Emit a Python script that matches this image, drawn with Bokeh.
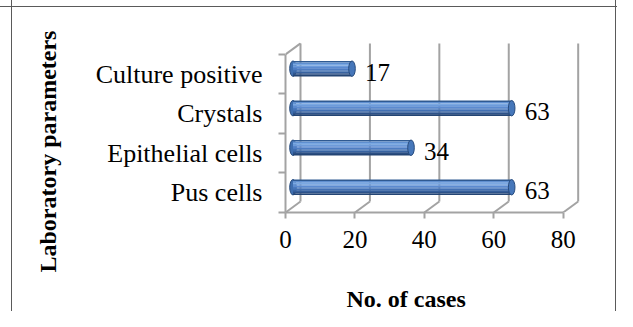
from bokeh.plotting import figure
from bokeh.models import Range1d, FixedTicker, Title, ColumnDataSource
from bokeh.core.properties import value
from bokeh.embed import file_html
from bokeh.resources import INLINE

# ---- data ----
categories = ["Pus cells", "Epithelial cells", "Crystals", "Culture positive"]
cases = [63, 34, 63, 17]
x_ticks = [0, 20, 40, 60, 80]
x_title = "No. of cases"
y_title = "Laboratory parameters"

# ---- 3D depth (in data units of the front axes) ----
DDX = 4.32     # depth shift along value axis
DDY = 0.277    # depth shift along category axis
THICK = 0.39   # bar (cylinder) thickness
FONT = value("Liberation Serif")
GRAY = "#A3A3A3"

n = len(categories)
idx = list(range(n))
centers = [i + 0.5 for i in idx]

p = figure(width=617, height=311, output_backend="svg", toolbar_location=None,
           x_range=Range1d(0, 90.75), y_range=Range1d(0, 4.3),
           min_border_left=285, min_border_right=17, min_border_top=42,
           min_border_bottom=99, border_fill_color=None,
           background_fill_color=None, outline_line_color=None)
p.styles = {
    "background-image": "linear-gradient(#5a5a5a,#5a5a5a), linear-gradient(#5a5a5a,#5a5a5a), linear-gradient(#5a5a5a,#5a5a5a)",
    "background-size": "1px 100%, 100% 1px, 1px 100%",
    "background-position": "11px 0px, 0px 6px, 615px 0px",
    "background-repeat": "no-repeat",
}
p.xgrid.visible = False
p.ygrid.visible = False

# ---- back wall gridlines and floor diagonals ----
p.segment(x0=[t + DDX for t in x_ticks], y0=[DDY] * len(x_ticks),
          x1=[t + DDX for t in x_ticks], y1=[n + DDY] * len(x_ticks),
          line_color=GRAY, line_width=2)
p.segment(x0=x_ticks, y0=[0] * len(x_ticks),
          x1=[t + DDX for t in x_ticks], y1=[DDY] * len(x_ticks),
          line_color=GRAY, line_width=2)
p.segment(x0=[0], y0=[n], x1=[DDX], y1=[n + DDY], line_color=GRAY, line_width=2)

# ---- cylinders ----
bar_y = [c + DDY / 2 for c in centers]
left = [DDX / 2] * n
right = [v + DDX / 2 for v in cases]
src = ColumnDataSource(dict(y=bar_y, left=left, right=right))

p.ellipse(x="left", y="y", width=1.9, height=THICK, source=src,
          fill_color="#3f6fb0", line_color="#284c7e", line_width=1)
strip_colors = ["#2f5a92", "#5f8fd0", "#7aa8e2", "#6d9bda", "#5b8ad0",
                "#4d7cc2", "#4270b3", "#3863a1", "#2d5289", "#244574"]
ns = len(strip_colors)
sh = THICK / ns
for k, col in enumerate(strip_colors):
    off = THICK / 2 - sh * (k + 0.5)
    p.hbar(y=[b + off for b in bar_y], left=left, right=right, height=sh * 1.05,
           fill_color=col, line_color=None)
p.ellipse(x="right", y="y", width=1.9, height=THICK, source=src,
          fill_color="#4677ba", line_color="#284c7e", line_width=1)

# ---- value labels ----
p.text(x=right, y=[i + 0.55 for i in idx], text=[str(v) for v in cases],
       x_offset=13, text_font=FONT, text_font_size="25px", text_color="#000000",
       text_align="left", text_baseline="alphabetic")

# ---- axes ----
xa = p.xaxis[0]
xa.ticker = FixedTicker(ticks=x_ticks, minor_ticks=[])
xa.bounds = (0, 80)
xa.axis_line_color = GRAY
xa.axis_line_width = 2
xa.major_tick_line_color = GRAY
xa.major_tick_line_width = 2
xa.major_tick_out = 6
xa.major_tick_in = 0
xa.major_label_text_font = "Liberation Serif"
xa.major_label_text_font_size = "25px"
xa.major_label_text_color = "#000000"
xa.major_label_standoff = 12
# invisible spacer between tick labels and the axis title
xa.axis_label = "\u00a0"
xa.axis_label_text_font_size = "1px"
xa.axis_label_standoff = 29

ya = p.yaxis[0]
ya.ticker = FixedTicker(ticks=centers, minor_ticks=[float(i) for i in range(n + 1)])
ya.bounds = (0, n)
ya.major_label_overrides = {c: name for c, name in zip(centers, categories)}
ya.axis_line_color = GRAY
ya.axis_line_width = 2
ya.major_tick_line_color = None
ya.major_tick_out = 0
ya.major_tick_in = 0
ya.minor_tick_line_color = GRAY
ya.minor_tick_line_width = 2
ya.minor_tick_out = 7
ya.minor_tick_in = 0
ya.major_label_text_font = "Liberation Serif"
ya.major_label_text_font_size = "26px"
ya.major_label_text_color = "#000000"
ya.major_label_standoff = 16

# ---- axis titles ----
p.add_layout(Title(text=x_title, align="left", offset=61, standoff=0,
                   text_font="Liberation Serif", text_font_size="24px",
                   text_font_style="bold", text_color="#000000"), "below")
p.add_layout(Title(text=y_title, align="left", offset=-60, standoff=64,
                   text_font="Liberation Serif", text_font_size="24px",
                   text_font_style="bold", text_color="#000000"), "left")

open("out.html", "w").write(file_html(p, INLINE))
